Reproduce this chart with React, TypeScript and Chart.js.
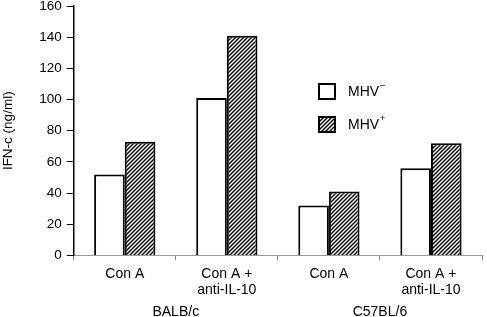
import React, { useEffect, useRef } from "react";
import { Chart, registerables } from "chart.js";

Chart.register(...registerables);

const categories = [["Con A"], ["Con A +", "anti-IL-10"], ["Con A"], ["Con A +", "anti-IL-10"]];
const strains = ["BALB/c", "C57BL/6"];
const mhvNeg = [52, 101, 32, 56];
const mhvPos = [73, 141, 41, 72];
const yTicks = [0, 20, 40, 60, 80, 100, 120, 140, 160];
const FONT = "'Liberation Sans', Arial, sans-serif";
const OFFSET_TOP = 7;

function makeHatch(): CanvasPattern | string {
  const c = document.createElement("canvas");
  c.width = 4;
  c.height = 4;
  const g = c.getContext("2d");
  if (!g) return "#888";
  g.fillStyle = "#fff";
  g.fillRect(0, 0, 4, 4);
  g.strokeStyle = "#000";
  g.lineWidth = 1.4;
  g.beginPath();
  g.moveTo(0, 4); g.lineTo(4, 0);
  g.moveTo(-1, 1); g.lineTo(1, -1);
  g.moveTo(3, 5); g.lineTo(5, 3);
  g.stroke();
  return g.createPattern(c, "repeat") as CanvasPattern;
}

export default function App() {
  const ref = useRef<HTMLCanvasElement>(null);
  useEffect(() => {
    if (!ref.current) return;
    const hatch = makeHatch();
    const legendPlugin = {
      id: "customLegend",
      afterDraw(chart: any) {
        const ctx = chart.ctx;
        ctx.save();
        const items = [
          { fill: "#fff", label: "MHV", sup: "\u2013", y: 84 + OFFSET_TOP },
          { fill: hatch, label: "MHV", sup: "+", y: 117 + OFFSET_TOP },
        ];
        items.forEach((it) => {
          ctx.fillStyle = it.fill;
          ctx.fillRect(319, it.y, 16, 15);
          ctx.strokeStyle = "#000";
          ctx.lineWidth = 2;
          ctx.strokeRect(319, it.y, 16, 15);
          ctx.fillStyle = "#000";
          ctx.font = `14px ${FONT}`;
          ctx.textBaseline = "middle";
          ctx.textAlign = "left";
          ctx.fillText(it.label, 348, it.y + 8);
          const w = ctx.measureText(it.label).width;
          ctx.font = `9px ${FONT}`;
          ctx.fillText(it.sup, 348 + w + 1, it.y + 2);
        });
        // group (strain) labels under each pair of categories
        const xs = chart.scales.x;
        ctx.font = `14px ${FONT}`;
        ctx.textAlign = "center";
        ctx.textBaseline = "middle";
        strains.forEach((s, i) => {
          const cx = (xs.getPixelForValue(i * 2) + xs.getPixelForValue(i * 2 + 1)) / 2;
          ctx.fillText(s, cx, 312 + OFFSET_TOP);
        });
        ctx.restore();
      },
    };
    const chart = new Chart(ref.current, {
      type: "bar",
      data: {
        labels: categories as any,
        datasets: [
          {
            label: "MHV-",
            data: mhvNeg,
            backgroundColor: "#fff",
            borderColor: "#000",
            borderWidth: 2,
            categoryPercentage: 0.6,
            barPercentage: 1.0,
          },
          {
            label: "MHV+",
            data: mhvPos,
            backgroundColor: hatch as any,
            borderColor: "#000",
            borderWidth: 2,
            categoryPercentage: 0.6,
            barPercentage: 1.0,
          },
        ],
      },
      options: {
        animation: false,
        responsive: false,
        maintainAspectRatio: false,
        layout: { padding: { top: 0, right: 5, left: 0, bottom: 13 } },
        plugins: { legend: { display: false }, tooltip: { enabled: false } },
        scales: {
          x: {
            type: "category",
            offset: true,
            grid: { drawOnChartArea: false, drawTicks: true, tickLength: 5, color: "#888", offset: true },
            border: { color: "#999", width: 1 },
            ticks: { color: "#000", font: { family: FONT, size: 14, lineHeight: 1.2 }, padding: 5, maxRotation: 0 },
          },
          y: {
            min: 0,
            max: 160,
            afterBuildTicks: (axis: any) => {
              axis.ticks = yTicks.map((v) => ({ value: v }));
            },
            grid: { drawOnChartArea: false, drawTicks: true, tickLength: 7, color: "#000" },
            border: { color: "#000", width: 1.5 },
            ticks: { color: "#000", font: { family: FONT, size: 13.5 }, padding: 5 },
            title: {
              display: true,
              text: "IFN-c (ng/ml)",
              color: "#000",
              font: { family: FONT, size: 13.5 },
              padding: { top: 0, bottom: 18 },
            },
          },
        },
      },
      plugins: [legendPlugin],
    });
    return () => chart.destroy();
  }, []);
  return (
    <div style={{ position: "fixed", left: 0, top: 0, width: 487, height: 317, background: "#fff", overflow: "hidden" }}>
      <canvas
        ref={ref}
        width={487}
        height={324}
        style={{ position: "absolute", left: 0, top: -OFFSET_TOP, width: 487, height: 324 }}
      />
    </div>
  );
}
